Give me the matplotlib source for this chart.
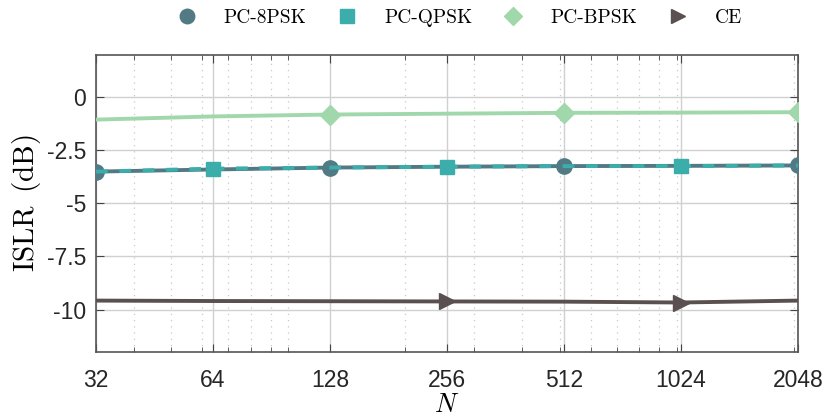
import numpy as np
import matplotlib.pyplot as plt
from matplotlib.ticker import FixedLocator, FixedFormatter

N = [32, 64, 128, 256, 512, 1024, 2048]
islr_8psk = [-3.50, -3.40, -3.31, -3.27, -3.24, -3.23, -3.21]
islr_qpsk = [-3.50, -3.36, -3.31, -3.27, -3.24, -3.24, -3.21]
islr_bpsk = [-1.05, -0.90, -0.81, -0.77, -0.73, -0.72, -0.70]
islr_ce = [-9.58, -9.60, -9.61, -9.62, -9.63, -9.67, -9.58]

xticklabels = ["32", "64", "128", "256", "512", "1024", "2048"]
yticks = [-10, -7.5, -5, -2.5, 0]
yticklabels = ["-10", "-7.5", "-5", "-2.5", "0"]

c_8psk = "#527a84"
c_qpsk = "#3badaa"
c_bpsk = "#a1d8ab"
c_ce = "#5b5050"

plt.rcParams["mathtext.fontset"] = "cm"

fig = plt.figure(figsize=(8.25, 4.16), dpi=100)
ax = fig.add_axes([0.1164, 0.154, 0.8509, 0.714])

ax.plot(N, islr_bpsk, color=c_bpsk, lw=2.8, marker="D", ms=10,
        markevery=[2, 4, 6], label="PC-BPSK", zorder=3)
ax.plot(N, islr_ce, color=c_ce, lw=2.8, marker=">", ms=11,
        markevery=[3, 5], label="CE", zorder=3)
ax.plot(N, islr_8psk, color=c_8psk, lw=2.8, marker="o", ms=11,
        markevery=[0, 2, 4, 6], label="PC-8PSK", zorder=4)
ax.plot(N, islr_qpsk, color=c_qpsk, lw=2.8, ls=(0, (3, 3)), marker="s", ms=10,
        markevery=[1, 3, 5], label="PC-QPSK", zorder=5)

ax.set_xscale("log", base=2)
ax.set_xlim(32, 2048)
ax.set_ylim(-12, 2)

ax.xaxis.set_major_locator(FixedLocator(N))
ax.xaxis.set_major_formatter(FixedFormatter(xticklabels))
minors = [m * d for d in (10, 100, 1000) for m in range(1, 10)]
minors = [v for v in minors if 32 < v < 2048 and v not in N]
ax.xaxis.set_minor_locator(FixedLocator(minors))
ax.xaxis.set_minor_formatter(FixedFormatter([""] * len(minors)))
ax.set_yticks(yticks)
ax.set_yticklabels(yticklabels)

ax.grid(True, which="major", color="#d0d0d0", lw=1.0)
ax.grid(True, which="minor", axis="x", color="#c8c8c8", lw=0.9, ls=(0, (1, 4)))
ax.set_axisbelow(True)

for s in ax.spines.values():
    s.set_color("#555555")
    s.set_linewidth(1.2)
ax.tick_params(which="both", direction="in", top=True, right=True,
               colors="#444444", labelcolor="#262626")
ax.tick_params(which="major", length=6, labelsize=16.5)
ax.tick_params(axis="x", which="major", pad=12.5)
ax.tick_params(axis="y", which="major", pad=7)
ax.tick_params(which="minor", length=3.5)
for lbl in ax.get_xticklabels() + ax.get_yticklabels():
    lbl.set_fontfamily("Liberation Sans")

ax.set_xlabel(r"$N$", fontsize=19, labelpad=-0.5)
ax.set_ylabel(r"$\mathrm{ISLR\ \,(dB)}$", fontsize=21, labelpad=3)

h, l = ax.get_legend_handles_labels()
order = [2, 3, 0, 1]
handles = []
for i in order:
    ln = h[i]
    proxy = plt.Line2D([], [], ls="none", marker=ln.get_marker(),
                       ms=ln.get_markersize() * 0.95, color=ln.get_color())
    handles.append(proxy)
leg = fig.legend(handles, [l[i] for i in order], loc="center",
                 bbox_to_anchor=(0.551, 0.957), ncol=4, frameon=False,
                 prop={"family": "cmr10", "size": 14}, handlelength=2.0,
                 handletextpad=0.9, columnspacing=1.1, borderaxespad=0)

fig.savefig("out.png", dpi=100)
